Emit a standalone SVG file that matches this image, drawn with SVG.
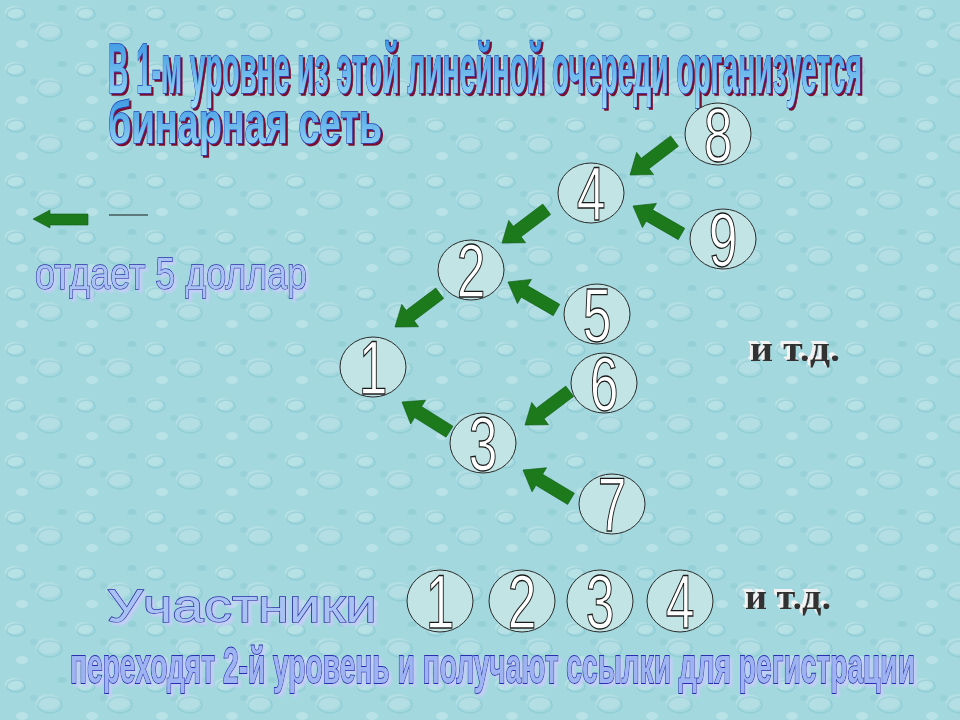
<svg xmlns="http://www.w3.org/2000/svg" width="960" height="720" viewBox="0 0 960 720">
  <defs>
    <pattern id="drops" width="70" height="56" patternUnits="userSpaceOnUse">
      <rect width="70" height="56" fill="#a2d8de"/>
      <ellipse cx="14" cy="12" rx="9" ry="6" fill="#ffffff" opacity="0.22"/>
      <ellipse cx="16" cy="14" rx="9" ry="6" fill="none" stroke="#6fb7c2" stroke-width="1.5" opacity="0.35"/>
      <ellipse cx="48" cy="30" rx="12" ry="8" fill="#ffffff" opacity="0.18"/>
      <ellipse cx="50" cy="33" rx="12" ry="8" fill="none" stroke="#6fb7c2" stroke-width="1.5" opacity="0.3"/>
      <ellipse cx="22" cy="44" rx="6" ry="4" fill="#ffffff" opacity="0.25"/>
      <ellipse cx="62" cy="8" rx="5" ry="3" fill="#7cbfc9" opacity="0.3"/>
      <ellipse cx="34" cy="26" rx="4" ry="3" fill="#7cbfc9" opacity="0.25"/>
    </pattern>
    <linearGradient id="titleFill" x1="0" y1="0" x2="0" y2="1">
      <stop offset="0" stop-color="#2f8fe0"/>
      <stop offset="1" stop-color="#9fdcf6"/>
    </linearGradient>
    <filter id="shRed" x="-5%" y="-20%" width="110%" height="140%">
      <feDropShadow dx="2" dy="2" stdDeviation="0" flood-color="#7a0f2e" flood-opacity="1"/>
    </filter>
    <filter id="shLight" x="-5%" y="-20%" width="110%" height="140%">
      <feDropShadow dx="3" dy="3" stdDeviation="1" flood-color="#c8ccfa" flood-opacity="0.85"/>
    </filter>
    <filter id="extrude" x="-10%" y="-30%" width="120%" height="160%">
      <feOffset in="SourceAlpha" dx="-1" dy="-1" result="o1"/>
      <feOffset in="SourceAlpha" dx="-2" dy="-2" result="o2"/>
      <feOffset in="SourceAlpha" dx="-3" dy="-3" result="o3"/>
      <feMerge result="ex"><feMergeNode in="o1"/><feMergeNode in="o2"/><feMergeNode in="o3"/></feMerge>
      <feFlood flood-color="#f2f2f2"/>
      <feComposite in2="ex" operator="in" result="light"/>
      <feMerge><feMergeNode in="light"/><feMergeNode in="SourceGraphic"/></feMerge>
    </filter>
    <path id="arr" d="M0,0 L-19,-14 L-19,-6.5 L-56,-6.5 L-56,6.5 L-19,6.5 L-19,14 Z"/>
    <style>
      .node ellipse { fill: #c3e4e4; stroke: #2a2a2a; stroke-width: 1; }
      .node text { font-family: "Liberation Sans", Arial, sans-serif; font-size: 76px; fill: #ffffff; stroke: #1a1a1a; stroke-width: 1.3; text-anchor: middle; }
      .arrow { fill: #1c7a1c; stroke: #125e12; stroke-width: 0.6; }
      .title { font-family: "Liberation Sans", Arial, sans-serif; font-weight: bold; fill: url(#titleFill); stroke: #1a3cb4; stroke-width: 1.6; paint-order: stroke; }
      .blue { font-family: "Liberation Sans", Arial, sans-serif; fill: #a9c2f4; stroke: #2b2fa8; stroke-width: 1.4; paint-order: stroke; }
      .bottom { font-family: "Liberation Sans", Arial, sans-serif; font-weight: bold; fill: #9eb4f2; stroke: #2a2fb0; stroke-width: 1.8; paint-order: stroke; }
      .itd { font-family: "Liberation Serif", "Times New Roman", serif; font-weight: bold; fill: #333333; }
    </style>
  </defs>

  <rect width="960" height="720" fill="url(#drops)"/>

  <!-- Title -->
  <g id="title" filter="url(#shRed)">
    <text class="title" transform="translate(108,93) scale(0.42,1)" font-size="70" textLength="1795" lengthAdjust="spacingAndGlyphs">В 1-м уровне из этой линейной очереди организуется</text>
    <text class="title" transform="translate(108,143) scale(0.62,1)" font-size="60" textLength="442" lengthAdjust="spacingAndGlyphs">бинарная сеть</text>
  </g>

  <!-- Legend -->
  <g id="legend">
    <path class="arrow" d="M33,219 L50,210 L50,214 L88,214 L88,225 L50,225 L50,228 Z"/>
    <line x1="109" y1="215" x2="148" y2="215" stroke="#1a1a1a" stroke-width="1.2"/>
    <g filter="url(#shLight)">
      <text class="blue" transform="translate(35,289) scale(0.8,1)" font-size="44" textLength="340" lengthAdjust="spacingAndGlyphs">отдает 5 доллар</text>
    </g>
  </g>

  <!-- Connectors -->
  <g id="connectors">
    <use href="#arr" class="arrow" transform="translate(630,175) rotate(142.7)"/>
    <use href="#arr" class="arrow" transform="translate(633,206) rotate(210)"/>
    <use href="#arr" class="arrow" transform="translate(502,243) rotate(143)"/>
    <use href="#arr" class="arrow" transform="translate(508,282) rotate(210)"/>
    <use href="#arr" class="arrow" transform="translate(395,327) rotate(143)"/>
    <use href="#arr" class="arrow" transform="translate(525,425) rotate(143)"/>
    <use href="#arr" class="arrow" transform="translate(402,402) rotate(212)"/>
    <use href="#arr" class="arrow" transform="translate(523,470) rotate(211)"/>
  </g>

  <!-- Tree nodes -->
  <g id="node-8" class="node"><ellipse cx="718" cy="134" rx="33" ry="31"/><text transform="translate(718,161) scale(0.68,1)">8</text></g>
  <g id="node-4" class="node"><ellipse cx="591" cy="193" rx="33" ry="30"/><text transform="translate(591,220) scale(0.68,1)">4</text></g>
  <g id="node-9" class="node"><ellipse cx="723" cy="239" rx="33" ry="30"/><text transform="translate(723,266) scale(0.68,1)">9</text></g>
  <g id="node-2" class="node"><ellipse cx="471" cy="270" rx="33" ry="30"/><text transform="translate(471,297) scale(0.68,1)">2</text></g>
  <g id="node-5" class="node"><ellipse cx="597" cy="314" rx="33" ry="30"/><text transform="translate(597,341) scale(0.68,1)">5</text></g>
  <g id="node-1" class="node"><ellipse cx="373" cy="367" rx="33" ry="30"/><text transform="translate(373,394) scale(0.68,1)">1</text></g>
  <g id="node-6" class="node"><ellipse cx="604" cy="383" rx="33" ry="30"/><text transform="translate(604,410) scale(0.68,1)">6</text></g>
  <g id="node-3" class="node"><ellipse cx="483" cy="443" rx="33" ry="30"/><text transform="translate(483,470) scale(0.68,1)">3</text></g>
  <g id="node-7" class="node"><ellipse cx="612" cy="504" rx="33" ry="30"/><text transform="translate(612,531) scale(0.68,1)">7</text></g>

  <!-- и т.д. (right) -->
  <g id="etc-1" filter="url(#extrude)">
    <text class="itd" x="750" y="361" font-size="36" textLength="90" lengthAdjust="spacingAndGlyphs">и т.д.</text>
  </g>

  <!-- Bottom row -->
  <g id="participants-label" filter="url(#shLight)">
    <text class="blue" transform="translate(107,622) scale(1.12,1)" font-size="46" textLength="241" lengthAdjust="spacingAndGlyphs">Участники</text>
  </g>
  <g id="p-1" class="node"><ellipse cx="440" cy="601" rx="33" ry="31"/><text transform="translate(440,628) scale(0.68,1)">1</text></g>
  <g id="p-2" class="node"><ellipse cx="522" cy="601" rx="33" ry="31"/><text transform="translate(522,628) scale(0.68,1)">2</text></g>
  <g id="p-3" class="node"><ellipse cx="600" cy="601" rx="33" ry="31"/><text transform="translate(600,628) scale(0.68,1)">3</text></g>
  <g id="p-4" class="node"><ellipse cx="680" cy="601" rx="33" ry="31"/><text transform="translate(680,628) scale(0.68,1)">4</text></g>
  <g id="etc-2" filter="url(#extrude)">
    <text class="itd" x="745" y="609" font-size="36" textLength="86" lengthAdjust="spacingAndGlyphs">и т.д.</text>
  </g>

  <g id="bottom-caption" filter="url(#shLight)">
    <text class="bottom" transform="translate(70,683) scale(0.5,1)" font-size="50" textLength="1690" lengthAdjust="spacingAndGlyphs">переходят 2-й уровень и получают ссылки для регистрации</text>
  </g>
</svg>
